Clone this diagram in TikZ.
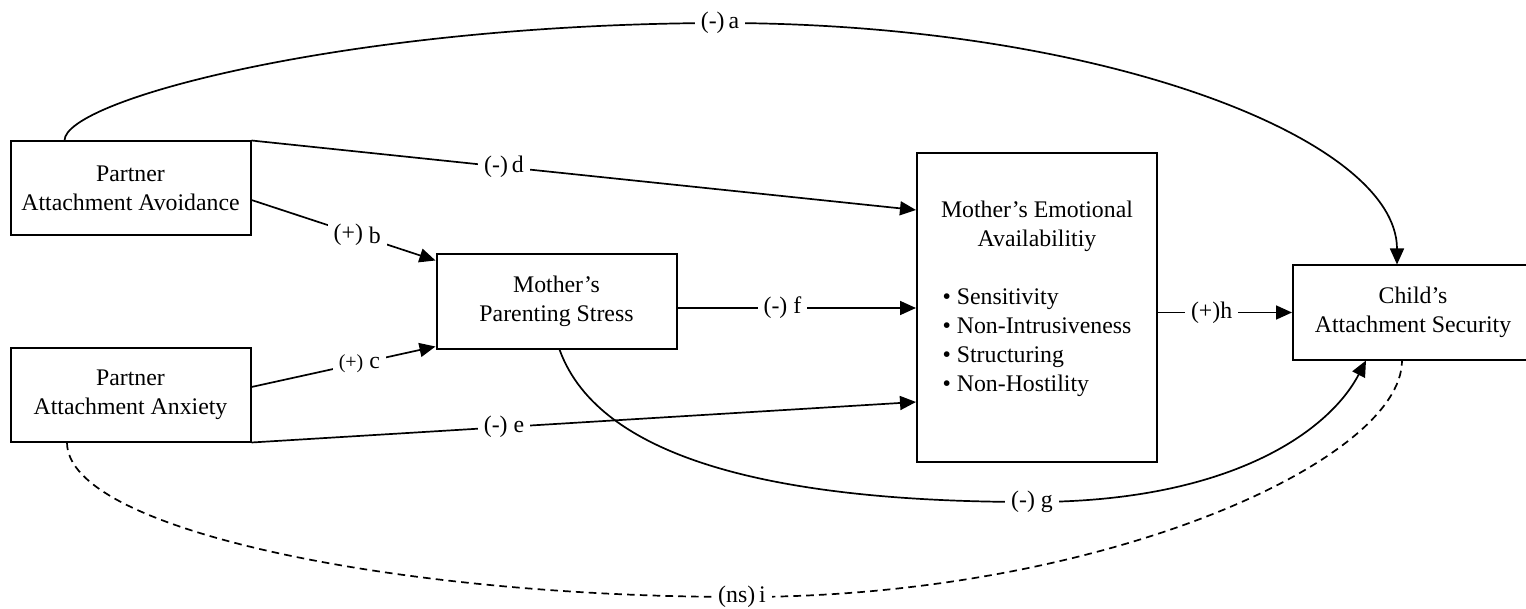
\documentclass[tikz,border=0pt]{standalone}
\usepackage{fontspec}
\setmainfont{Liberation Serif}
\usetikzlibrary{arrows.meta,calc}
\tikzset{pm/.style={x=.5pt,y=-.5pt,line width=.85pt,font=\fontsize{11.9}{14.5}\selectfont},
  blk/.style={draw,line width=1pt,align=center,minimum width=120pt,minimum height=47pt,inner sep=0pt},
  lbl/.style={fill=white,inner xsep=3pt,inner ysep=1pt},
  arr/.style={-{Triangle[length=8pt,width=7pt]}},
  nsline/.style={dash pattern=on 3.8pt off 2.6pt}}

\begin{document}
\begin{tikzpicture}[pm]
  \useasboundingbox (0,0) rectangle (1526,609);
  \node[blk] (avoid) at (130.5,188.5) {Partner\\Attachment Avoidance};
  \node[blk] (anx) at (130.5,394.5) {Partner\\Attachment Anxiety};
  \node[blk] (stress) at (556.5,301.5) {Mother’s\\Parenting Stress};
  \node[blk,minimum height=154.5pt] (emo) at (1037,307.5) {Mother’s Emotional\\Availabilitiy\\[14.5pt]%
    \begin{tabular}[t]{@{}l@{}}• Sensitivity\\• Non-Intrusiveness\\• Structuring\\• Non-Hostility\\[7pt]\end{tabular}};
  \node[blk] (child) at (1413,312.5) {Child’s\\Attachment Security};
  \coordinate (atop) at (720,23);
  \coordinate (gbot) at (1032,502);
  \coordinate (ibot) at (742,597);
  % paths
  \draw[arr] ($(avoid.north west)+(55,0)$) .. controls +(0,-41) and +(-370,1) .. (atop) node[lbl]{(-)\,a}
    .. controls +(380,0) and +(0,-126) .. ($(child.north west)+(105,0)$);
  \draw[arr] ($(avoid.east)+(0,11.5)$) -- node[lbl,pos=.575]{\raisebox{1.5pt}{(+)} b} ($(stress.north west)+(0,7)$);
  \draw[arr] ($(anx.east)+(0,-7.5)$) -- node[lbl,pos=.586]{{\fontsize{10}{12}\selectfont(+)} c} ($(stress.south west)+(0,-3)$);
  \draw[arr] (avoid.north east) -- node[lbl,pos=.38]{(-)\,d} ($(emo.west)+(0,-97.5)$);
  \draw[arr] (anx.south east) -- node[lbl,pos=.38]{(-) e} ($(emo.west)+(0,94.5)$);
  \draw[arr] ($(stress.east)+(0,6.5)$) -- node[lbl,pos=.44]{(-) f} ($(emo.west)+(0,.5)$);
  \draw[arr] ($(stress.south west)+(124,0)$) .. controls +(40,111) and +(-252,0) .. (gbot) node[lbl]{(-) g}
    .. controls +(198,0) and +(-37,71) .. ($(child.south west)+(74,0)$);
  \draw[arr] ($(emo.east)+(0,5)$) -- node[lbl,pos=.4]{(+)h} (child.west);
  \draw[nsline] ($(anx.south west)+(57.5,0)$) .. controls +(0,88) and +(-342,0) .. (ibot) node[lbl]{(ns)\,i}
    .. controls +(358,0) and +(0,101) .. ($(child.south west)+(110,0)$);
\end{tikzpicture}
\end{document}
